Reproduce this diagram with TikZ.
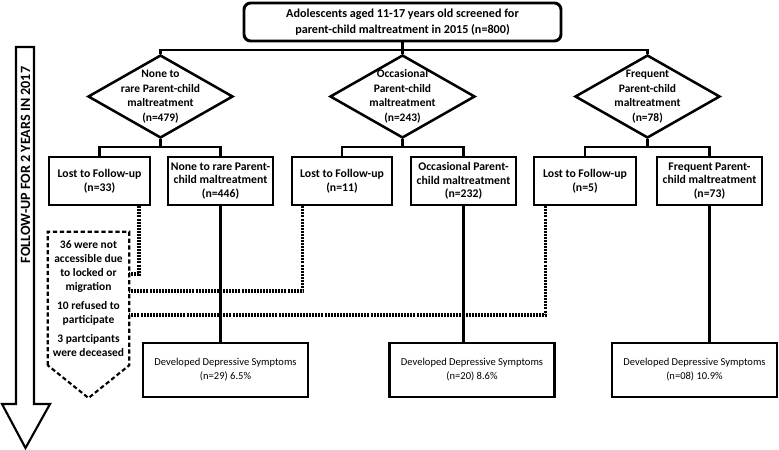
\documentclass[tikz,border=0pt]{standalone}
\usepackage{fontspec}
\setmainfont{Carlito}
\usetikzlibrary{shapes.geometric}

\begin{document}
\begin{tikzpicture}[
        x=0.75pt, y=-0.75pt,
        every node/.style={font=\bfseries\fontsize{8.8}{10.2}\selectfont, align=center},
        topbox/.style={draw, line width=2.2pt, rounded corners=5pt, minimum width=237.75pt, minimum height=28.5pt, font=\bfseries\fontsize{9.1}{12}\selectfont},
        group/.style={draw, diamond, line width=1.9pt, minimum width=108.75pt, minimum height=62.25pt, inner sep=0pt},
        grouptext/.style={font=\bfseries\fontsize{8.6}{10.9}\selectfont},
        followbox/.style={draw, line width=1.9pt, minimum height=36pt, inner sep=1pt},
        resultbox/.style={draw, line width=1.9pt, minimum width=123.75pt, minimum height=40.5pt, font=\fontsize{7.9}{10.5}\selectfont},
        link/.style={draw, line width=1.6pt},
        lostlink/.style={draw, line width=2.3pt, dash pattern=on 1.5pt off 0.8pt},
        notebox/.style={line width=1.6pt, dash pattern=on 3.2pt off 2pt}
    ]
    \useasboundingbox (0,0) rectangle (779,450);

    % screening
    \node[topbox] (top) at (402.5,22) {Adolescents aged 11-17 years old screened for\\parent-child maltreatment in 2015 (n=800)};

    % maltreatment groups
    \node[group, label={[grouptext]center:None to\\rare Parent-child\\maltreatment\\(n=479)}] (g1) at (160.5,96.5) {};
    \node[group, label={[grouptext]center:Occasional\\Parent-child\\maltreatment\\(n=243)}] (g2) at (402.5,96.5) {};
    \node[group, label={[grouptext]center:Frequent\\Parent-child\\maltreatment\\(n=78)}] (g3) at (647.5,96.5) {};

    % follow-up outcome
    \node[followbox, minimum width=75.75pt] (lost1) at (99.5,181) {Lost to Follow-up\\(n=33)};
    \node[followbox, minimum width=78.75pt] (none) at (220.5,181) {None to rare Parent-\\child maltreatment\\(n=446)};
    \node[followbox, minimum width=75pt] (lost2) at (342,181) {Lost to Follow-up\\(n=11)};
    \node[followbox, minimum width=78.75pt] (occ) at (463.5,181) {Occasional Parent-\\child maltreatment\\(n=232)};
    \node[followbox, minimum width=76.5pt] (lost3) at (585,181) {Lost to Follow-up\\(n=5)};
    \node[followbox, minimum width=78.75pt] (freq) at (709.5,181) {Frequent Parent-\\child maltreatment\\(n=73)};

    % depressive symptoms
    \node[resultbox] (dev1) at (225.5,370) {Developed Depressive Symptoms\\(n=29) 6.5\%};
    \node[resultbox] (dev2) at (472,370) {Developed Depressive Symptoms\\(n=20) 8.6\%};
    \node[resultbox] (dev3) at (694.5,370) {Developed Depressive Symptoms\\(n=08) 10.9\%};

    % reasons for loss
    \node[minimum width=60.75pt, minimum height=99.75pt, inner sep=0pt, font=\bfseries\fontsize{8.6}{10.5}\selectfont] (note) at (88.5,298.5)
        {36 were not\\accessible due\\to locked or\\migration\\[4pt]10 refused to\\participate\\[4pt]3 partcipants\\were deceased};
    \coordinate (tip) at (88.5,398);
    \draw[notebox] (note.south west) -- (note.north west) -- (note.north east) -- (note.south east) -- (tip) -- cycle;
    \coordinate (j1) at (129,274);
    \coordinate (j2) at (129,291);
    \coordinate (j3) at (129,315);

    % time arrow
    \draw[line width=1.6pt] (16,47) -- (34,47) -- (34,404) -- (50,404) -- (25.5,448) -- (2,404) -- (16,404) -- cycle;
    \node[rotate=90, font=\bfseries\fontsize{10.6}{12}\selectfont] (time) at (25.5,165) {FOLLOW-UP FOR 2 YEARS IN 2017};

    % connectors
    \draw[link] (top.south) -- (g2.north);
    \draw[link] (g1.north) -- ++(0,-3.5) -| (g3.north);
    \draw[link] (g1.south) -- ++(0,8) -| (lost1.north) (g1.south) ++(0,8) -| (none.north);
    \draw[link] (g2.south) -- ++(0,8) -| (lost2.north) (g2.south) ++(0,8) -| (occ.north);
    \draw[link] (g3.south) -- ++(0,8) -| (lost3.north) (g3.south) ++(0,8) -| (freq.north);
    \draw[link] (none.south) -- (none.south |- dev1.north);
    \draw[link] (occ.south) -- (occ.south |- dev2.north);
    \draw[link] (freq.south) -- (freq.south |- dev3.north);
    \draw[lostlink] ([xshift=29.6pt]lost1.south) |- (j1);
    \draw[lostlink] ([xshift=-29.3pt]lost2.south) |- (j2);
    \draw[lostlink] ([xshift=-29.3pt]lost3.south) |- (j3);
\end{tikzpicture}
\end{document}
